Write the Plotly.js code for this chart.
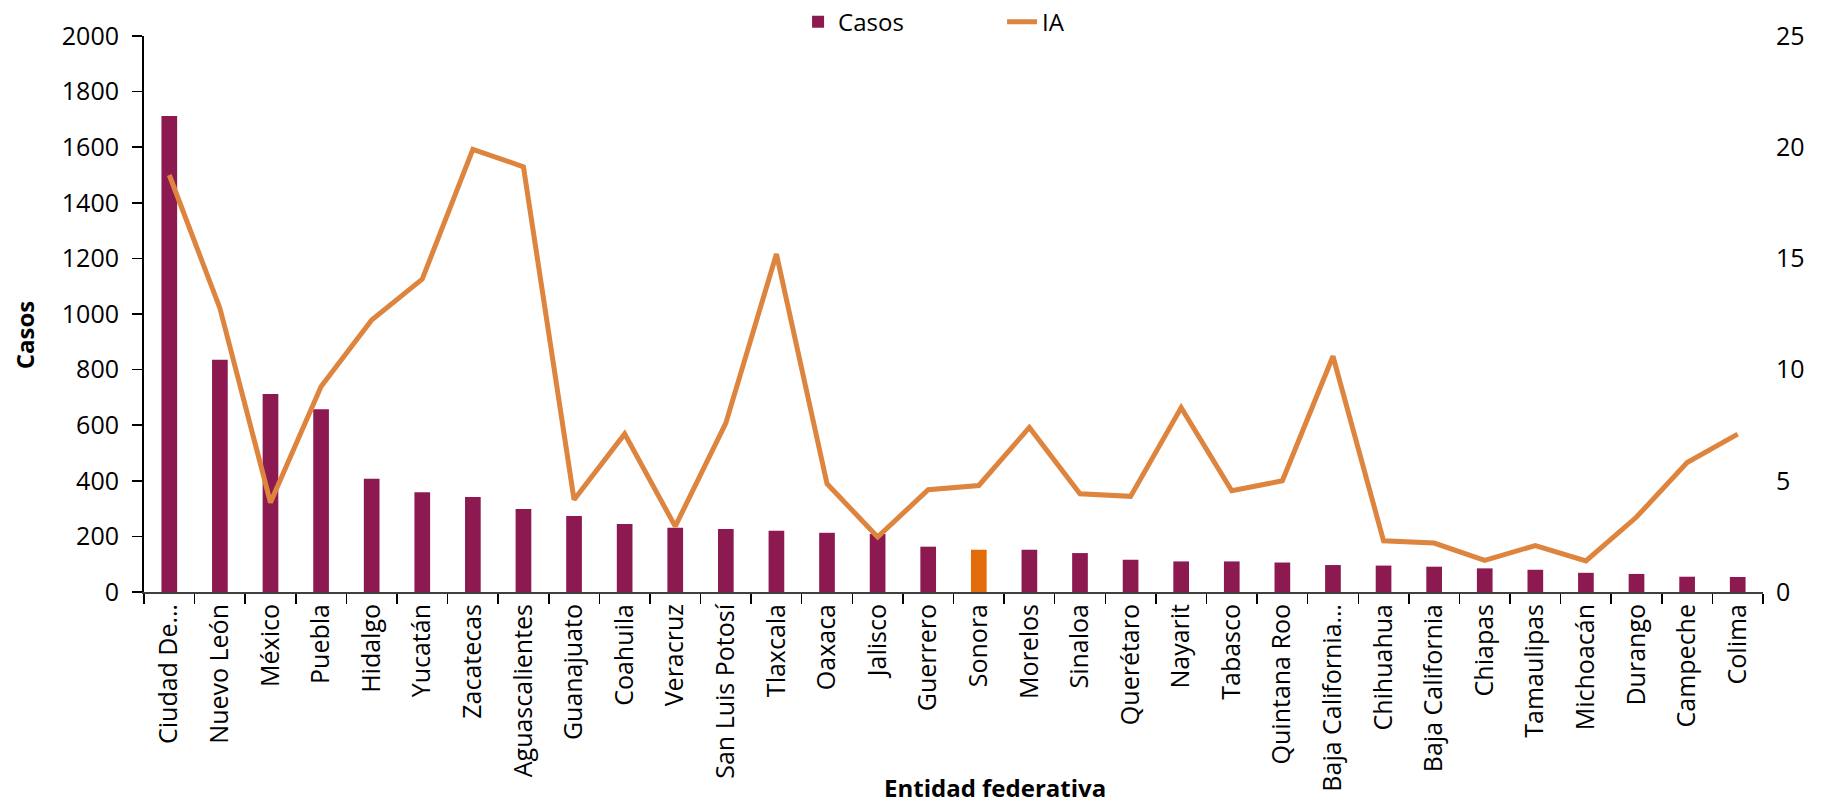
<!DOCTYPE html>
<html>
<head>
<meta charset="utf-8">
<script src="https://cdn.plot.ly/plotly-3.0.1.min.js"></script>
<style>
  html, body { margin: 0; padding: 0; background: #ffffff; }
  #chart { width: 1825px; height: 807px; }
</style>
</head>
<body>
<div id="chart"></div>
<script>
const categories = ["Ciudad De…", "Nuevo León", "México", "Puebla", "Hidalgo", "Yucatán", "Zacatecas",
  "Aguascalientes", "Guanajuato", "Coahuila", "Veracruz", "San Luis Potosí", "Tlaxcala", "Oaxaca",
  "Jalisco", "Guerrero", "Sonora", "Morelos", "Sinaloa", "Querétaro", "Nayarit", "Tabasco",
  "Quintana Roo", "Baja California…", "Chihuahua", "Baja California", "Chiapas", "Tamaulipas",
  "Michoacán", "Durango", "Campeche", "Colima"];

const casos = [1712, 835, 712, 657, 407, 359, 342, 299, 273, 245, 231, 227, 220, 213,
  209, 163, 152, 152, 140, 116, 110, 110, 106, 97, 95, 91, 85, 80, 69, 65, 55, 54];

const ia = [18.75, 12.76, 4.02, 9.24, 12.23, 14.07, 19.9, 19.12, 4.15, 7.11, 2.95, 7.59, 15.2, 4.87,
  2.47, 4.6, 4.79, 7.4, 4.42, 4.3, 8.29, 4.55, 5.0, 10.6, 2.3, 2.2, 1.42, 2.09, 1.4, 3.37, 5.82, 7.1];

const highlighted = "Sonora";

const barColor = "#8C1A51";
const highlightColor = "#E36C0A";
const lineColor = "#DD843F";
const font = "'Open Sans', 'Noto Sans', sans-serif";

const barColors = categories.map(c => c === highlighted ? highlightColor : barColor);

const traces = [
  {
    type: "bar",
    name: "Casos",
    x: categories,
    y: casos,
    marker: { color: barColors },
    yaxis: "y",
    hoverinfo: "x+y"
  },
  {
    type: "scatter",
    mode: "lines",
    name: "IA",
    x: categories,
    y: ia,
    yaxis: "y2",
    line: { color: lineColor, width: 5 },
    hoverinfo: "x+y"
  }
];

const layout = {
  width: 1825,
  height: 807,
  paper_bgcolor: "#ffffff",
  plot_bgcolor: "#ffffff",
  font: { family: font, color: "#000000", size: 22 },
  margin: { l: 144, r: 62, t: 36, b: 215, autoexpand: false },
  bargap: 0.69,
  showlegend: true,
  legend: {
    orientation: "h",
    x: 0.404, xanchor: "left",
    y: 1.025, yanchor: "middle",
    font: { family: font, size: 24, color: "#000000" },
    entrywidth: 159,
    bgcolor: "rgba(0,0,0,0)"
  },
  xaxis: {
    type: "category",
    tickangle: -90,
    tickson: "boundaries",
    ticks: "outside",
    ticklen: 10,
    tickwidth: 1.5,
    tickcolor: "#000000",
    showline: true,
    linecolor: "#404040",
    linewidth: 2,
    showgrid: false,
    zeroline: false,
    tickfont: { family: font, size: 25, color: "#000000" },
    automargin: false
  },
  yaxis: {
    range: [0, 2000],
    dtick: 200,
    ticks: "outside",
    ticklen: 10,
    tickwidth: 1.5,
    tickcolor: "#000000",
    ticklabelstandoff: 8,
    showline: true,
    linecolor: "#000000",
    linewidth: 2,
    showgrid: false,
    zeroline: false,
    tickfont: { family: font, size: 25, color: "#000000" },
    automargin: false
  },
  yaxis2: {
    overlaying: "y",
    side: "right",
    range: [0, 25],
    dtick: 5,
    ticks: "",
    ticklabelstandoff: 12,
    showline: false,
    showgrid: false,
    zeroline: false,
    tickfont: { family: font, size: 25, color: "#000000" },
    automargin: false
  },
  annotations: [
    {
      text: "<b>Casos</b>",
      xref: "paper", yref: "paper",
      x: -0.074, y: 0.462,
      xanchor: "center", yanchor: "middle",
      textangle: -90,
      showarrow: false,
      font: { family: font, size: 24, color: "#000000" }
    },
    {
      text: "<b>Entidad federativa</b>",
      xref: "paper", yref: "paper",
      x: 0.5256, y: -0.384,
      xanchor: "center", yanchor: "bottom",
      showarrow: false,
      font: { family: font, size: 24, color: "#000000" }
    }
  ]
};

Plotly.newPlot("chart", traces, layout, { displayModeBar: false, staticPlot: true });
</script>
</body>
</html>
